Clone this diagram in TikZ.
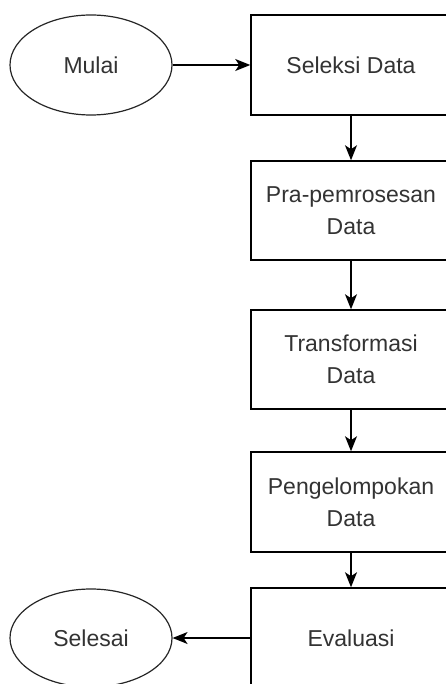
\documentclass[tikz,border=0pt]{standalone}
\usepackage{fontspec}
\setmainfont{Liberation Sans}
\usetikzlibrary{shapes.geometric,arrows.meta}
\begin{document}
\begin{tikzpicture}[x=1pt,y=-1pt,
  stepbox/.style={draw=black,line width=1.5pt,minimum width=200pt,minimum height=100pt,inner sep=0pt,align=center,text=black!80,font=\fontsize{23}{32}\selectfont},
  term/.style={draw=black!85,ellipse,line width=1.2pt,minimum width=162pt,minimum height=100pt,inner sep=0pt,text=black!80,font=\fontsize{23}{32}\selectfont},
  conn/.style={line width=1.5pt,-{Stealth[length=15pt,width=12pt,inset=4pt]}}]
\useasboundingbox (0,0) rectangle (446,684);
\clip (0,0) rectangle (446,684);
\fill[white] (0,0) rectangle (446,684);
\node[term] (mulai) at (91,65) {Mulai};
\node[stepbox] (s1) at (351,65) {Seleksi Data};
\node[stepbox,minimum height=99pt] (s2) at (351,210.5) {Pra-pemrosesan\\Data};
\node[stepbox,minimum height=99pt] (s3) at (351,359.5) {Transformasi\\Data};
\node[stepbox] (s4) at (351,502) {Pengelompokan\\Data};
\node[stepbox] (s5) at (351,638) {Evaluasi};
\node[term,minimum height=98pt] (selesai) at (91,638) {Selesai};
\draw[conn] (mulai) -- (s1);
\draw[conn] (s1) -- (s2);
\draw[conn] (s2) -- (s3);
\draw[conn] (s3) -- (s4);
\draw[conn] (s4) -- (s5);
\draw[conn] (s5) -- (selesai);
\end{tikzpicture}
\end{document}
